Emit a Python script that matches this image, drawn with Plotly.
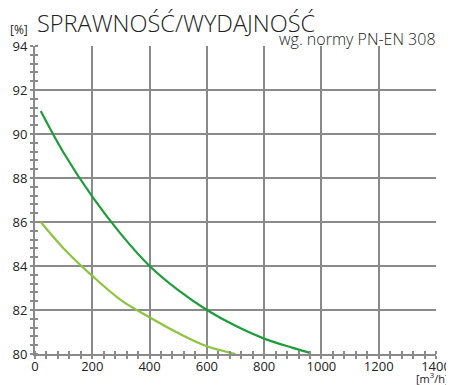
import plotly.graph_objects as go

# dark green curve
flow_dark = [20, 100, 200, 300, 400, 500, 600, 700, 800, 900, 960]
eff_dark = [91.05, 89.15, 87.15, 85.45, 84.0, 82.9, 82.0, 81.28, 80.7, 80.28, 80.05]

# light green curve
flow_light = [20, 100, 200, 300, 400, 500, 600, 700]
eff_light = [86.0, 84.8, 83.55, 82.45, 81.67, 80.95, 80.35, 80.0]

x_ticks = [0, 200, 400, 600, 800, 1000, 1200, 1400]
y_ticks = [80, 82, 84, 86, 88, 90, 92, 94]

grid_col = '#8a8a8a'
font_fam = 'Open Sans'

fig = go.Figure()
fig.add_trace(go.Scatter(x=flow_light, y=eff_light, mode='lines', line=dict(color='#8cc43f', width=2.2, shape='spline')))
fig.add_trace(go.Scatter(x=flow_dark, y=eff_dark, mode='lines', line=dict(color='#1d9d3a', width=2.2, shape='spline')))
# invisible trace so the overlay axes (inner half of the minor ticks) get drawn
fig.add_trace(go.Scatter(x=[0], y=[80], xaxis='x2', yaxis='y2', mode='markers', marker=dict(opacity=0), hoverinfo='skip'))

axis_common = dict(showgrid=True, gridcolor=grid_col, gridwidth=2, zeroline=False, automargin=False,
                   showline=True, linecolor=grid_col, linewidth=2,
                   tickfont=dict(size=13, color='#222', family=font_fam))

# page body has an 8px margin, so the figure is 8px smaller than the window
fig.update_layout(
    width=446, height=377,
    margin=dict(l=27, r=18, t=38, b=31, autoexpand=False),
    paper_bgcolor='white', plot_bgcolor='white',
    showlegend=False,
    font=dict(family=font_fam),
    xaxis=dict(range=[0, 1400], tickvals=x_ticks, ticks='outside', ticklen=3, tickcolor=grid_col, tickwidth=1.5,
               ticklabelstandoff=-4,
               minor=dict(dtick=40, tick0=0, ticks='outside', ticklen=3, tickcolor=grid_col, tickwidth=1.5, showgrid=False),
               **axis_common),
    yaxis=dict(range=[80, 94], tickvals=y_ticks, ticks='outside', ticklen=3, tickcolor=grid_col, tickwidth=1.5,
               minor=dict(dtick=0.4, tick0=80, ticks='outside', ticklen=3, tickcolor=grid_col, tickwidth=1.5, showgrid=False),
               **axis_common),
    xaxis2=dict(range=[0, 1400], overlaying='x', showgrid=False, zeroline=False, showticklabels=False, automargin=False,
                tickvals=[], minor=dict(dtick=40, tick0=0, ticks='inside', ticklen=3, tickcolor=grid_col, tickwidth=1.5)),
    yaxis2=dict(range=[80, 94], overlaying='y', showgrid=False, zeroline=False, showticklabels=False, automargin=False,
                tickvals=[], minor=dict(dtick=0.4, tick0=80, ticks='inside', ticklen=3, tickcolor=grid_col, tickwidth=1.5)),
)

fig.add_annotation(text='SPRAWNOŚĆ/WYDAJNOŚĆ', xref='paper', yref='paper', x=0.0, y=1.0, yshift=41,
                   xanchor='left', yanchor='top', showarrow=False,
                   font=dict(size=23.5, color='#222', family=font_fam, weight=300))
fig.add_annotation(text='[%]', xref='paper', yref='paper', x=0, xshift=-27, y=1.0, yshift=27,
                   xanchor='left', yanchor='top', showarrow=False, font=dict(size=12, color='#222', family=font_fam))
fig.add_annotation(text='wg. normy PN-EN 308', xref='paper', yref='paper', x=1.0, xshift=2, y=1.0, yshift=20,
                   xanchor='right', yanchor='top', showarrow=False,
                   font=dict(size=16, color='#222', family=font_fam, weight=300))
fig.add_annotation(text='[m<sup>3</sup>/h]', xref='paper', yref='paper', x=1.0, xshift=15, y=0, yshift=-14,
                   xanchor='right', yanchor='top', showarrow=False, font=dict(size=11, color='#222', family=font_fam))

fig.write_html("out.html")
